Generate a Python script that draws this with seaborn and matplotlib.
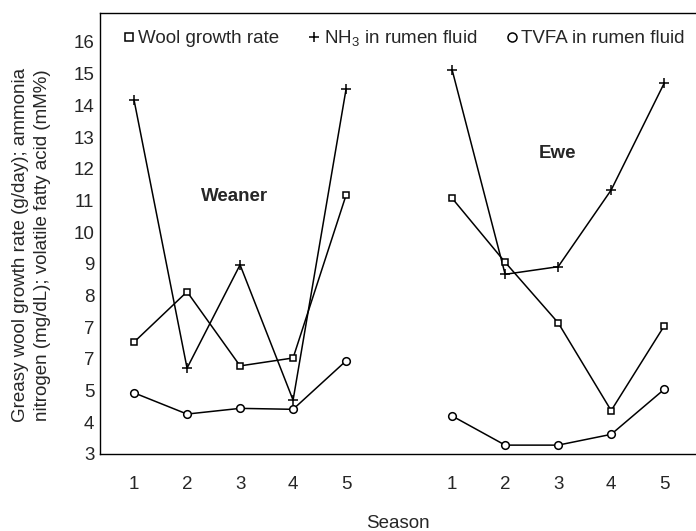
import pandas as pd
import matplotlib
matplotlib.use("Agg")
import matplotlib.pyplot as plt
from matplotlib.lines import Line2D
import seaborn as sns

# seasons per group; the ewe block is drawn to the right of the weaner block
SEASONS = [1, 2, 3, 4, 5]
GROUP_OFFSET = {"Weaner": 0, "Ewe": 6}

WEANER_WOOL = [6.53, 8.12, 5.78, 6.03, 11.17]
WEANER_NH3 = [14.17, 5.71, 8.97, 4.70, 14.52]
WEANER_TVFA = [4.93, 4.26, 4.44, 4.41, 5.94]

EWE_WOOL = [11.07, 9.05, 7.14, 4.37, 7.04]
EWE_NH3 = [15.12, 8.67, 8.91, 11.33, 14.70]
EWE_TVFA = [4.20, 3.28, 3.28, 3.62, 5.04]

SERIES_LABELS = {
    "wool": "Wool growth rate",
    "nh3": "NH$_3$ in rumen fluid",
    "tvfa": "TVFA in rumen fluid",
}
YTICKS = list(range(3, 17))
YTICK_LABELS = ["3", "4", "5", "7", "7", "8", "9", "10", "11", "12", "13", "14", "15", "16"]

values = {
    ("Weaner", "wool"): WEANER_WOOL,
    ("Weaner", "nh3"): WEANER_NH3,
    ("Weaner", "tvfa"): WEANER_TVFA,
    ("Ewe", "wool"): EWE_WOOL,
    ("Ewe", "nh3"): EWE_NH3,
    ("Ewe", "tvfa"): EWE_TVFA,
}
rows = []
for (group, series), vals in values.items():
    for s, v in zip(SEASONS, vals):
        rows.append({"group": group, "series": series, "season": s,
                     "pos": s + GROUP_OFFSET[group], "value": v})
df = pd.DataFrame(rows)

sns.set_style("white")
plt.rcParams["font.family"] = ["Liberation Sans", "DejaVu Sans"]
plt.rcParams["mathtext.default"] = "regular"

FS = 13.5
MARKERS = {"wool": ("s", 5), "nh3": ("+", 6.5), "tvfa": ("o", 5.5)}

fig = plt.figure(figsize=(6.96, 5.31), dpi=100)
ax = fig.add_axes([100 / 696, 77 / 531, 596 / 696, 441 / 531])

for series, sub in df.groupby("series"):
    m, ms = MARKERS[series]
    sns.lineplot(
        data=sub, x="pos", y="value", units="group", estimator=None,
        ax=ax, color="black", lw=1.1, marker=m, ms=ms,
        mfc="white", mec="black", mew=1.1, legend=False,
    )

ax.text(2.89, 11.13, "Weaner", fontsize=FS, fontweight="bold", ha="center", va="center")
ax.text(8.98, 12.47, "Ewe", fontsize=FS, fontweight="bold", ha="center", va="center")

ax.set_xlim(0.358, 11.6)
ax.set_ylim(3, 16.915)
ax.set_xticks([s + GROUP_OFFSET[g] for g in GROUP_OFFSET for s in SEASONS])
ax.set_xticklabels([str(s) for g in GROUP_OFFSET for s in SEASONS])
ax.set_yticks(YTICKS)
ax.set_yticklabels(YTICK_LABELS)
ax.tick_params(axis="y", direction="in", length=7, width=0.8, labelsize=FS, pad=4)
ax.tick_params(axis="x", direction="out", length=7, width=0.8, labelsize=FS, pad=9)

for side in ["left", "top", "bottom"]:
    ax.spines[side].set_color("black")
    ax.spines[side].set_linewidth(1.0)
ax.spines["right"].set_visible(False)

ax.set_xlabel("Season", fontsize=FS, labelpad=16)
ax.set_ylabel("Greasy wool growth rate (g/day); ammonia\nnitrogen (mg/dL); volatile fatty acid (mM%)",
              fontsize=FS, linespacing=1.4)
ax.yaxis.set_label_coords(-0.082, 0.474)

handles = [
    Line2D([], [], ls="none", marker=MARKERS[k][0], ms=MARKERS[k][1] + 1,
           mfc="white", mec="black", mew=1.1)
    for k in SERIES_LABELS
]
ax.legend(handles, list(SERIES_LABELS.values()), ncol=3, frameon=False,
          loc="center left", bbox_to_anchor=(0.036, 0.943), fontsize=FS,
          handlelength=0.8, handletextpad=0.1, columnspacing=1.45,
          borderaxespad=0, borderpad=0)

fig.savefig("out.png", dpi=100)
